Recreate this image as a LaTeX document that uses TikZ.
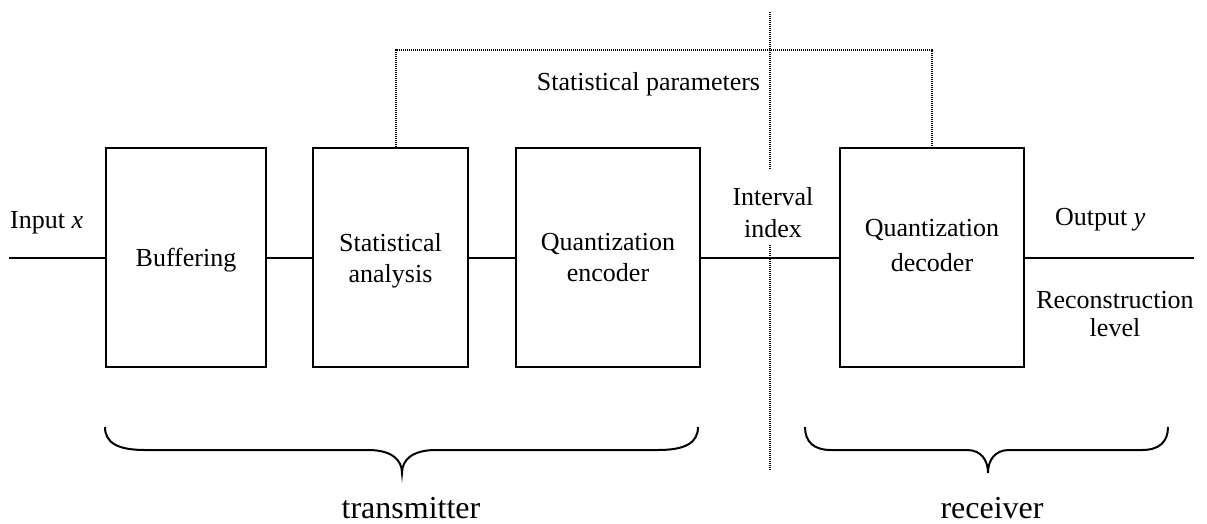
\documentclass[tikz,border=0pt]{standalone}
\usepackage{fontspec}
\setmainfont{Liberation Serif}
\begin{document}
\begin{tikzpicture}[x=1pt,y=-1pt,
  blk/.style={draw, line width=2.2pt, minimum height=219pt, inner sep=0pt,
    align=center, text depth=0pt, font=\fontsize{26}{31}\selectfont},
  wire/.style={line width=2pt},
  dotline/.style={line width=1.6pt, dash pattern=on 1pt off 1pt},
  lbl/.style={inner sep=0pt, font=\fontsize{26}{31}\selectfont},
  biglbl/.style={inner sep=0pt, anchor=base, font=\fontsize{32}{38}\selectfont},
  brc/.style={line width=2pt}]
\useasboundingbox (0,0) rectangle (1207,523);

% processing blocks
\node[blk, minimum width=160pt] (buf) at (186,257.5) {Buffering};
\node[blk, minimum width=155pt] (sta) at (390.5,257.5) {Statistical\\analysis};
\node[blk, minimum width=184pt] (enc) at (608,257.5) {Quantization\\encoder};
\node[blk, minimum width=184pt, text depth=24pt,
      font=\fontsize{26}{35}\selectfont] (dec) at (932,257.5) {Quantization\\decoder};

% signal path
\coordinate (in) at (9,257.5);
\coordinate (out) at (1194,257.5);
\draw[wire] (in) -- (buf);
\draw[wire] (buf) -- (sta);
\draw[wire] (sta) -- (enc);
\draw[wire] (enc) -- (dec);
\draw[wire] (dec) -- (out);

% side information link
\coordinate (pa) at (396,50);
\coordinate (pb) at (932,50);
\draw[dotline] (sta.north -| pa) -- (pa) -- (pb) -- (dec.north);

% channel boundary
\coordinate (sepT) at (770,12);
\coordinate (gapT) at (770,170);
\coordinate (gapB) at (770,245);
\coordinate (sepB) at (770,470);
\draw[dotline] (sepT) -- (gapT);
\draw[dotline] (gapB) -- (sepB);

% labels (multi-line nodes are placed by the baseline of their last line)
\node[lbl, anchor=base west] (inx) at (10,228) {Input \textit{x}};
\node[lbl, anchor=base] (sp) at (648.5,90) {Statistical parameters};
\node[lbl, anchor=base, align=center, font=\fontsize{26}{32}\selectfont] (ii) at (773,237) {Interval\\index};
\node[lbl, anchor=base west] (outy) at (1055,225) {Output \textit{y}};
\node[lbl, anchor=base, align=center, font=\fontsize{26}{28}\selectfont] (rl) at (1115,336) {Reconstruction\\level};

% grouping braces
\draw[brc] (105,427) .. controls (105,443) and (118,450) .. (145,450) -- (368,450)
  .. controls (392,450) and (402,460) .. (402,473)
  .. controls (402,460) and (412,450) .. (436,450) -- (658,450)
  .. controls (685,450) and (698,443) .. (698,427);
\draw[brc] (805,427) .. controls (805,442) and (814,450) .. (831,450) -- (967,450)
  .. controls (981,450) and (988,460) .. (988,473)
  .. controls (988,460) and (995,450) .. (1009,450) -- (1142,450)
  .. controls (1159,450) and (1168,442) .. (1168,427);
\node[biglbl] (tx) at (411,518) {transmitter};
\node[biglbl] (rx) at (992,518) {receiver};
\end{tikzpicture}
\end{document}
